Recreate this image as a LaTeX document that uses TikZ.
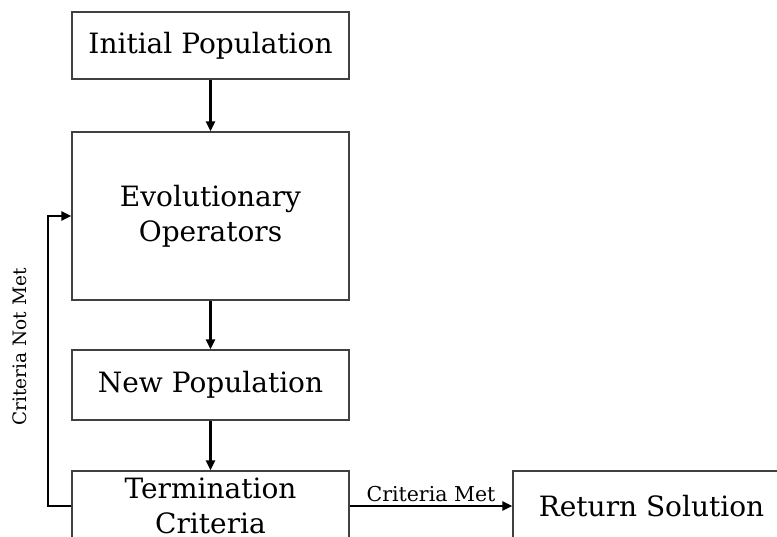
\documentclass[tikz,border=0pt]{standalone}
\usepackage{fontspec}
\setmainfont{DejaVu Serif}
\usepackage{xcolor}
\usepackage{tikz}
\usetikzlibrary{arrows.meta,positioning}
\definecolor{boxline}{HTML}{404040}
\tikzset{
  block/.style={draw=boxline, line width=1.3pt, fill=white,
    minimum width=277pt, align=center, inner sep=0pt,
    font=\fontsize{28}{35}\selectfont},
  flow/.style={-{Triangle[length=10pt, width=9pt]}, line width=2.6pt, black},
  note/.style={font=\fontsize{20.5}{24}\selectfont, inner sep=3pt}
}

\begin{document}
\begin{tikzpicture}[x=1pt, y=-1pt]
  \useasboundingbox (0,0) rectangle (777,536);
  \clip (0,0) rectangle (777,536);

  \node[block, minimum height=67pt] (initpop) at (210.5, 45.5) {Initial Population};
  \node[block, minimum height=168pt] (evolops) at (210.5, 216) {Evolutionary\\Operators};
  \node[block, minimum height=70pt] (newpop) at (210.5, 385) {New Population};
  \node[block, minimum height=70pt] (termcrit) at (210.5, 506) {Termination\\Criteria};
  \node[block, minimum height=70pt] (retsol) at (651.5, 506) {Return Solution};

  \coordinate (loopbot) at (48, 506);
  \coordinate (looptop) at (48, 216);

  \draw[flow] (initpop) -- (evolops);
  \draw[flow] (evolops) -- (newpop);
  \draw[flow] (newpop) -- (termcrit);
  \draw[flow] (termcrit) -- node[note, above] {Criteria Met} (retsol);
  \draw[flow] (termcrit.west) -- (loopbot) -- (looptop) -- (evolops.west);

  \node[note, rotate=90, font=\fontsize{18.5}{22}\selectfont] (notmet) at (20, 347) {Criteria Not Met};
\end{tikzpicture}
\end{document}
